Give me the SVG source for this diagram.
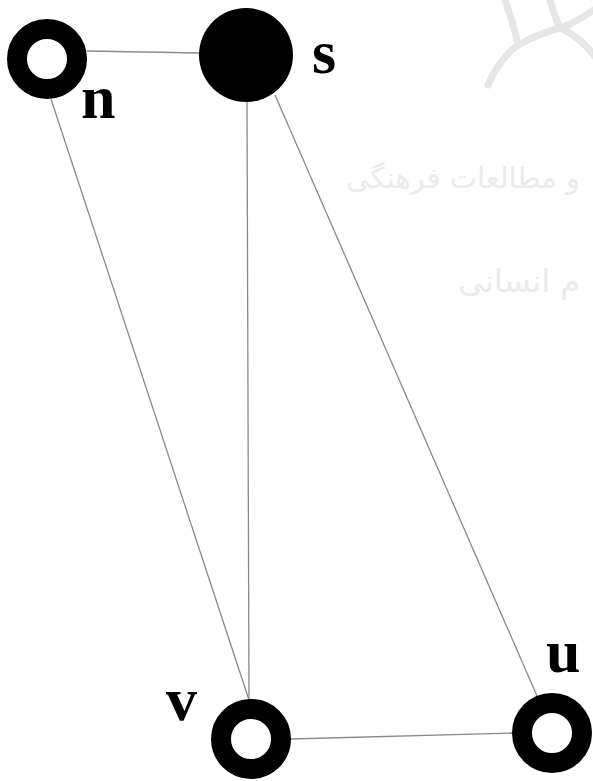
<svg xmlns="http://www.w3.org/2000/svg" width="593" height="781" viewBox="0 0 593 781">
<style>
.ring{fill:#fff;stroke:#000;stroke-width:20}
.edge{stroke:#8a8a8a;stroke-width:1.3;fill:none}
.lbl{font-family:"Liberation Serif",serif;font-size:62px;font-weight:bold;fill:#000}
.wm{font-family:"DejaVu Sans",sans-serif;fill:#ebebeb}
.logo{stroke:#e6e6e6;stroke-width:7;fill:none;stroke-linecap:round}
</style>
<rect width="593" height="781" fill="#fff"/>
<g id="watermark">
<path class="logo" d="M505 0 Q514 25 518 45"/>
<path class="logo" d="M488 85 Q500 58 518 45 Q540 33 560 28"/>
<path class="logo" d="M550 0 Q554 15 560 28 Q578 22 596 8"/>
<path class="logo" d="M560 28 Q582 38 596 58"/>
<text class="wm" x="580" y="188" font-size="29" text-anchor="end">و مطالعات فرهنگی</text>
<text class="wm" x="580" y="292" font-size="32" text-anchor="end">م انسانی</text>
</g>
<g id="edges">
<line class="edge" x1="87" y1="51" x2="200" y2="53"/>
<line class="edge" x1="51" y1="99" x2="249" y2="700"/>
<line class="edge" x1="247" y1="102" x2="249" y2="700"/>
<line class="edge" x1="275" y1="95" x2="537" y2="696"/>
<line class="edge" x1="291" y1="739" x2="513" y2="733"/>
</g>
<g id="node-n">
<circle class="ring" cx="47" cy="59" r="30"/>
<text class="lbl" x="81" y="118">n</text>
</g>
<g id="node-s">
<circle cx="246" cy="55" r="47" fill="#000"/>
<text class="lbl" x="312" y="73">s</text>
</g>
<g id="node-v">
<circle class="ring" cx="251" cy="739" r="30"/>
<text class="lbl" x="166" y="720">v</text>
</g>
<g id="node-u">
<circle class="ring" cx="552" cy="733" r="30"/>
<text class="lbl" x="546" y="672">u</text>
</g>
</svg>
